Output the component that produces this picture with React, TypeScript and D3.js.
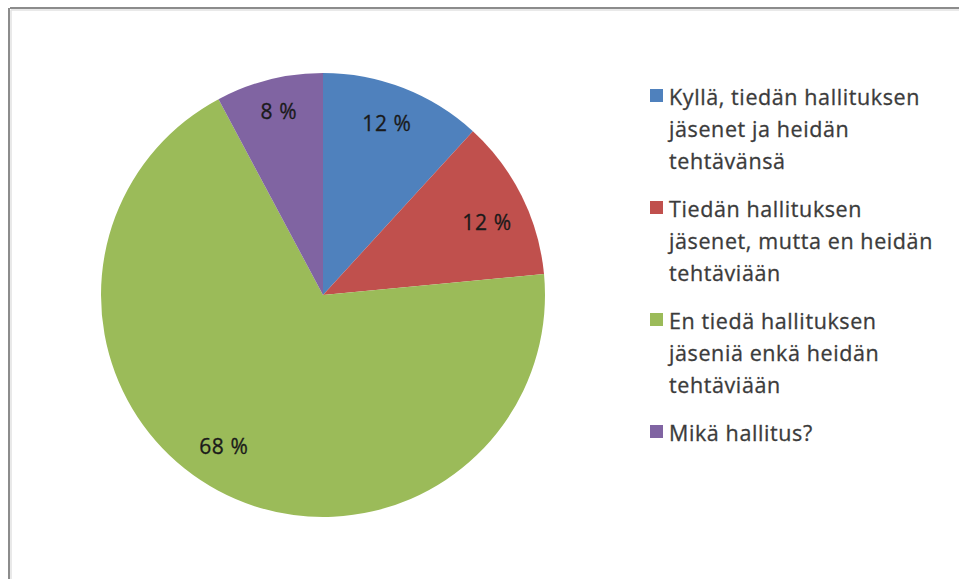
import { useEffect, useRef } from 'react';
import * as d3 from 'd3';

// answer categories (legend lines are pre-wrapped as in the original)
const categories: string[][] = [
    ['Kyllä, tiedän hallituksen', 'jäsenet ja heidän', 'tehtävänsä'],
    ['Tiedän hallituksen', 'jäsenet, mutta en heidän', 'tehtäviään'],
    ['En tiedä hallituksen', 'jäseniä enkä heidän', 'tehtäviään'],
    ['Mikä hallitus?'],
];
const shares: number[] = [11.8, 11.7, 68.7, 7.8];
const valueLabels: string[] = ['12 %', '12 %', '68 %', '8 %'];
const colors: string[] = ['#4f81bd', '#c0504d', '#9bbb59', '#8064a2'];

export default function App() {
    const ref = useRef<SVGSVGElement>(null);

    useEffect(() => {
        if (!ref.current) return;
        const width = 959;
        const height = 579;
        const svg = d3.select(ref.current);
        svg.selectAll('*').remove();

        // frame (top and left edge of the chart border)
        svg.append('line').attr('x1', 10).attr('y1', 8).attr('x2', width).attr('y2', 8)
            .attr('stroke', '#8c8c8c').attr('stroke-width', 2);
        svg.append('line').attr('x1', 9).attr('y1', 8).attr('x2', 9).attr('y2', height)
            .attr('stroke', '#8c8c8c').attr('stroke-width', 2);
        svg.append('line').attr('x1', 11).attr('y1', 10).attr('x2', width).attr('y2', 10)
            .attr('stroke', '#e2e2e2').attr('stroke-width', 1.5);
        svg.append('line').attr('x1', 11).attr('y1', 10).attr('x2', 11).attr('y2', height)
            .attr('stroke', '#e2e2e2').attr('stroke-width', 1.5);

        const cx = 323;
        const cy = 295;
        const r = 222;

        const pie = d3.pie<number>().sort(null).value((d) => d);
        const arcs = pie(shares);
        const arc = d3.arc<d3.PieArcDatum<number>>().innerRadius(0).outerRadius(r);
        const labelArc = d3.arc<d3.PieArcDatum<number>>().innerRadius(r * 0.82).outerRadius(r * 0.82);

        const g = svg.append('g').attr('transform', `translate(${cx},${cy})`);
        g.selectAll('path')
            .data(arcs)
            .join('path')
            .attr('d', arc)
            .attr('fill', (_, i) => colors[i]);

        // small nudges so the labels sit where the original puts them
        const nudge: [number, number][] = [[-2, -2], [1, 8], [-13, -9], [0, -7]];
        g.selectAll('text')
            .data(arcs)
            .join('text')
            .attr('transform', (d, i) => {
                const [x, y] = labelArc.centroid(d);
                return `translate(${x + nudge[i][0]},${y + nudge[i][1]})`;
            })
            .attr('text-anchor', 'middle')
            .attr('dominant-baseline', 'central')
            .attr('font-family', '"Open Sans", sans-serif')
            .attr('font-size', 21)
            .attr('letter-spacing', 0.6)
            .attr('fill', '#1a1a1a')
            .attr('stroke', '#1a1a1a')
            .attr('stroke-width', 0.3)
            .text((_, i) => valueLabels[i]);

        // legend
        const legendX = 650;
        const lineH = 32;
        let y = 96;
        categories.forEach((lines, i) => {
            svg.append('rect')
                .attr('x', legendX)
                .attr('y', y - 7)
                .attr('width', 13)
                .attr('height', 13)
                .attr('fill', colors[i]);
            lines.forEach((line, j) => {
                svg.append('text')
                    .attr('x', legendX + 19)
                    .attr('y', y + j * lineH)
                    .attr('dominant-baseline', 'central')
                    .attr('font-family', '"Open Sans", sans-serif')
                    .attr('font-size', 21.5)
                    .attr('letter-spacing', 0.6)
                    .attr('fill', '#3b3b3b')
                    .attr('stroke', '#3b3b3b')
                    .attr('stroke-width', 0.3)
                    .text(line);
            });
            y += lines.length * lineH + 16;
        });
    }, []);

    return (
        <div style={{ position: 'absolute', left: 0, top: 0, width: 959, height: 579, background: '#fff' }}>
            <svg ref={ref} width={959} height={579} style={{ display: 'block' }}></svg>
        </div>
    );
}
